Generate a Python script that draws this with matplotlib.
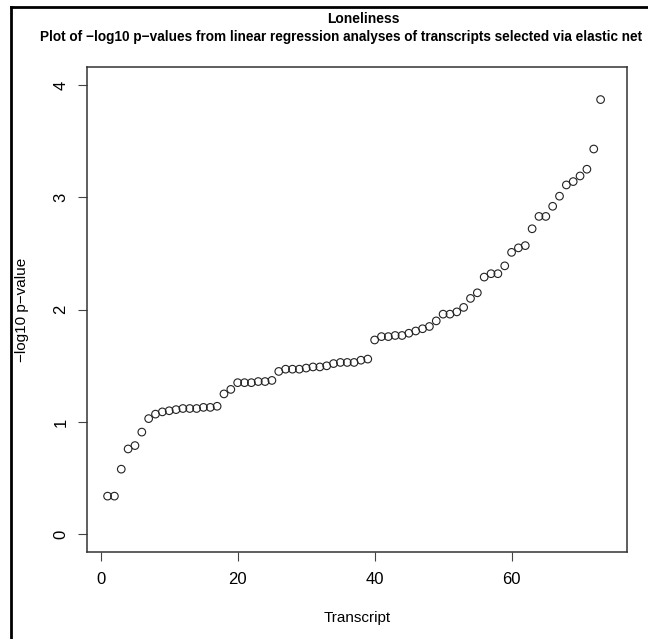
import matplotlib
matplotlib.use("Agg")
import matplotlib.pyplot as plt

plt.rcParams['font.family'] = ['Liberation Sans', 'DejaVu Sans']

# -log10 p-values, sorted, one per transcript
neglog10_p = [0.34, 0.34, 0.58, 0.76, 0.79, 0.91, 1.03, 1.07, 1.09, 1.10,
              1.11, 1.12, 1.12, 1.12, 1.13, 1.13, 1.14, 1.25, 1.29, 1.35,
              1.35, 1.35, 1.36, 1.36, 1.37, 1.45, 1.47, 1.47, 1.47, 1.48,
              1.49, 1.49, 1.50, 1.52, 1.53, 1.53, 1.53, 1.55, 1.56, 1.73,
              1.76, 1.76, 1.77, 1.77, 1.79, 1.81, 1.83, 1.85, 1.90, 1.96,
              1.96, 1.98, 2.02, 2.10, 2.15, 2.29, 2.32, 2.32, 2.39, 2.51,
              2.55, 2.57, 2.72, 2.83, 2.83, 2.92, 3.01, 3.11, 3.14, 3.19,
              3.25, 3.43, 3.87]
transcript = list(range(1, len(neglog10_p) + 1))
x_ticks = [0, 20, 40, 60]
y_ticks = [0, 1, 2, 3, 4]

W, H = 648, 639
fig = plt.figure(figsize=(W / 100, H / 100), dpi=100)
ax = fig.add_axes([87.3 / W, 1 - 552.3 / H, (627.3 - 87.3) / W, (552.3 - 67) / H])

ax.scatter(transcript, neglog10_p, s=30, facecolors='none', edgecolors='#222222', linewidths=0.8)

ax.set_xlim(-1.96, 76.9)
ax.set_ylim(-0.16, 4.16)
ax.set_xticks(x_ticks)
ax.set_yticks(y_ticks)
ax.tick_params(axis='both', direction='out', length=6.5, width=0.8, color='#444444',
               labelsize=12)
ax.tick_params(axis='x', pad=8)
ax.tick_params(axis='y', pad=7)
for lab in ax.get_yticklabels():
    lab.set_rotation(90)
    lab.set_va('center')
for sp in ax.spines.values():
    sp.set_color('#333333')
    sp.set_linewidth(1.1)

# titles and axis labels (R base style)
fig.text(363 / W, 1 - 19 / H, "Loneliness", ha='center', va='center',
         fontsize=10, fontweight='bold')
fig.text(341 / W, 1 - 37 / H,
         "Plot of \u2212log10 p\u2212values from linear regression analyses of transcripts selected via elastic net",
         ha='center', va='center', fontsize=9.8, fontweight='bold')
fig.text(357 / W, 1 - 618 / H, "Transcript", ha='center', va='center', fontsize=11)
fig.text(22 / W, 1 - 310 / H, "\u2212log10 p\u2212value", ha='center', va='center',
         rotation=90, fontsize=11)

# frame of the screenshot (left and top edges)
fig.add_artist(plt.Line2D([10.8 / W, 10.8 / W], [0, 1 - 6.5 / H], transform=fig.transFigure,
                          color='black', linewidth=2))
fig.add_artist(plt.Line2D([10.8 / W, 1], [1 - 6.5 / H, 1 - 6.5 / H], transform=fig.transFigure,
                          color='black', linewidth=2))

fig.savefig("out.png", dpi=100)
